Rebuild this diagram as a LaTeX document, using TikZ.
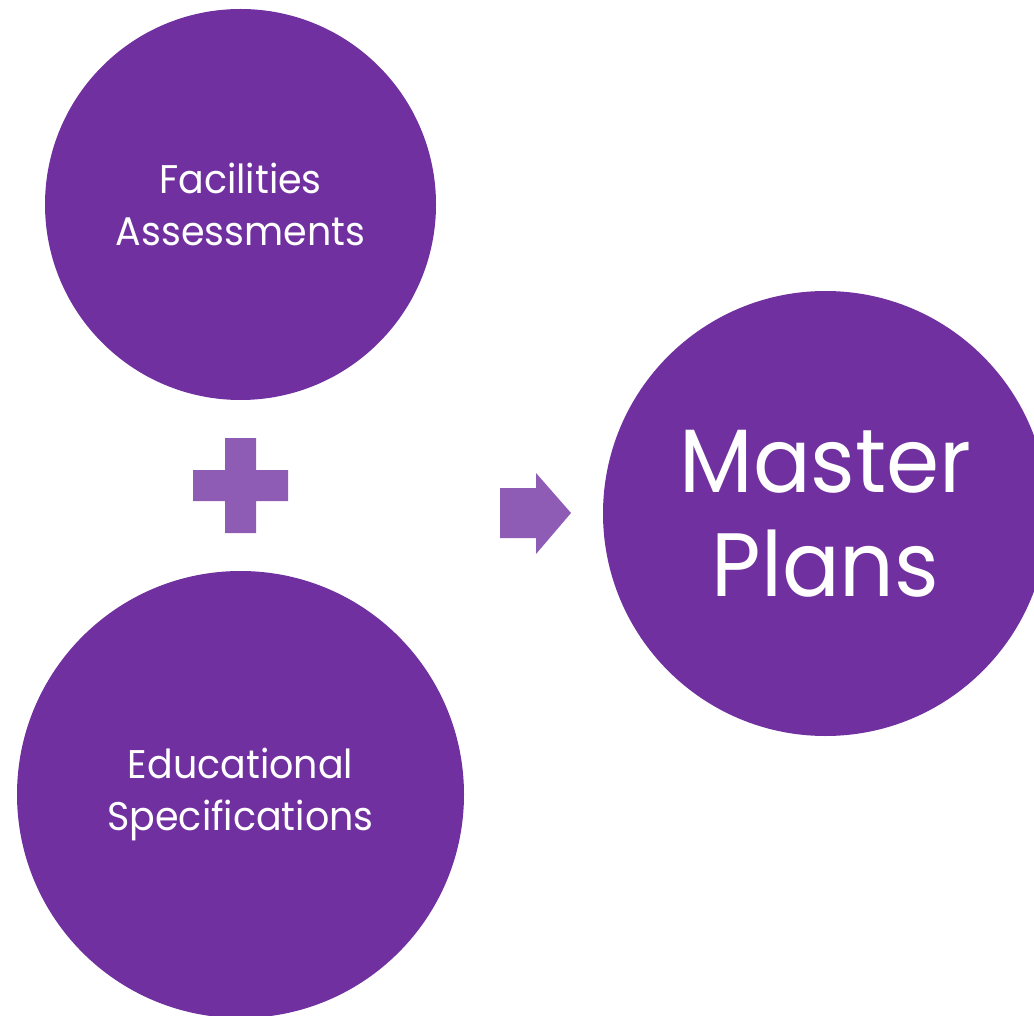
\documentclass[tikz,border=0pt]{standalone}
\usepackage{fontspec}
\setmainfont[FakeStretch=0.95]{Poppins}
\definecolor{circ}{HTML}{7030A0}
\definecolor{sym}{HTML}{8E5BB5}
\begin{document}
\begin{tikzpicture}[x=1pt,y=-1pt,
  bubble/.style={circle, fill=circ, inner sep=0pt, text=white, align=center},
  small/.style={font=\fontsize{40}{52}\selectfont},
  big/.style={font=\fontsize{90}{104}\selectfont},
  symbol/.style={fill=sym}]
\useasboundingbox (0,0) rectangle (1034,1016);
\clip (0,0) rectangle (1034,1016);
\node[bubble, small, minimum size=391pt] (fa) at (240.5,204.5) {Facilities\\Assessments};
\node[bubble, small, minimum size=447pt] (es) at (240.5,794.5) {Educational\\Specifications};
\node[bubble, big, minimum size=445pt] (mp) at (825.5,513.5) {Master\\Plans};
% plus sign
\fill[symbol] (225,438) -- (256,438) -- (256,470) -- (288,470) -- (288,501) -- (256,501)
  -- (256,533) -- (225,533) -- (225,501) -- (193,501) -- (193,470) -- (225,470) -- cycle;
% arrow
\fill[symbol] (500,488) -- (536,488) -- (536,473) -- (571,513) -- (536,554) -- (536,538) -- (500,538) -- cycle;
\end{tikzpicture}
\end{document}
